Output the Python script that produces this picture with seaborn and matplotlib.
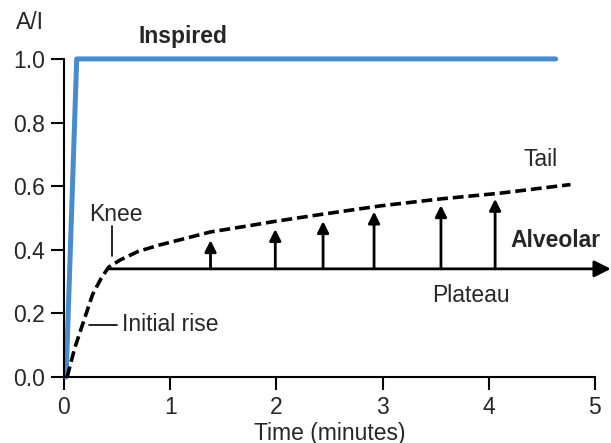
import matplotlib
matplotlib.use("Agg")
import matplotlib.pyplot as plt
import seaborn as sns
import pandas as pd

# Data
inspired_x = [0.02, 0.12, 4.63]
inspired_y = [0.0, 1.0, 1.0]

alveolar_x = [0.03, 0.10, 0.18, 0.27, 0.35, 0.42, 0.53, 0.70, 0.90, 1.10, 1.38, 1.75, 2.00, 2.44, 2.98, 3.55, 4.11, 4.77]
alveolar_y = [0.00, 0.09, 0.17, 0.26, 0.31, 0.345, 0.368, 0.395, 0.415, 0.432, 0.456, 0.476, 0.49, 0.512, 0.538, 0.56, 0.578, 0.605]

plateau_y = 0.34
plateau_x = [0.42, 5.15]
arrow_x = [1.38, 1.99, 2.44, 2.92, 3.55, 4.06]
arrow_top = [0.43, 0.465, 0.49, 0.52, 0.54, 0.56]

xticks = [0, 1, 2, 3, 4, 5]
yticks = [0.0, 0.2, 0.4, 0.6, 0.8, 1.0]

sns.set_style("ticks")
plt.rcParams['font.family'] = ['Liberation Sans', 'DejaVu Sans']
FS = 16.5

fig = plt.figure(figsize=(6.11, 4.43), dpi=100)
ax = fig.add_axes([0.1047, 0.149, 0.869, 0.718])

df_i = pd.DataFrame({"x": inspired_x, "y": inspired_y})
df_a = pd.DataFrame({"x": alveolar_x, "y": alveolar_y})
sns.lineplot(data=df_i, x="x", y="y", ax=ax, color="#4a8ccb", lw=3.6,
             sort=False, estimator=None, clip_on=False)
sns.lineplot(data=df_a, x="x", y="y", ax=ax, color="black", lw=2.6,
             sort=False, estimator=None, clip_on=False, dashes=False,
             linestyle=(0, (3.0, 1.35)))

# Plateau arrow
ax.annotate("", xy=(plateau_x[1], plateau_y), xytext=(plateau_x[0], plateau_y),
            arrowprops=dict(arrowstyle="-|>", color="black", lw=2,
                            mutation_scale=25, shrinkA=0, shrinkB=0),
            annotation_clip=False)
for xa, yt in zip(arrow_x, arrow_top):
    ax.annotate("", xy=(xa, yt), xytext=(xa, plateau_y),
                arrowprops=dict(arrowstyle="-|>", color="black", lw=2,
                                mutation_scale=17, shrinkA=0, shrinkB=0))

# Labels
ax.plot([0.45, 0.45], [0.38, 0.475], color="black", lw=1.2)
ax.text(0.49, 0.51, "Knee", fontsize=FS, ha="center", va="center")
ax.plot([0.24, 0.5], [0.165, 0.165], color="black", lw=1.2)
ax.text(0.55, 0.165, "Initial rise", fontsize=FS, ha="left", va="center")
ax.text(4.49, 0.685, "Tail", fontsize=FS, ha="center", va="center")
ax.text(4.63, 0.43, "Alveolar", fontsize=FS, ha="center", va="center", fontweight="bold")
ax.text(3.83, 0.255, "Plateau", fontsize=FS, ha="center", va="center")
ax.text(1.12, 1.07, "Inspired", fontsize=FS, ha="center", va="center", fontweight="bold")
ax.text(-0.32, 1.115, "A/I", fontsize=FS, ha="center", va="center", clip_on=False)

ax.set_xlim(0, 5)
ax.set_ylim(0, 1.0)
ax.set_xticks(xticks)
ax.set_xticklabels([str(t) for t in xticks])
ax.set_yticks(yticks)
ax.set_yticklabels([f"{t:.1f}" for t in yticks])
ax.tick_params(length=9.5, width=1.5, labelsize=FS, pad=4, color="black")
ax.set_xlabel("Time (minutes)", fontsize=FS, labelpad=2)
ax.set_ylabel("")
for s in ["left", "bottom"]:
    ax.spines[s].set_linewidth(1.5)
    ax.spines[s].set_color("black")
sns.despine(ax=ax)

fig.savefig("out.png", dpi=100)
